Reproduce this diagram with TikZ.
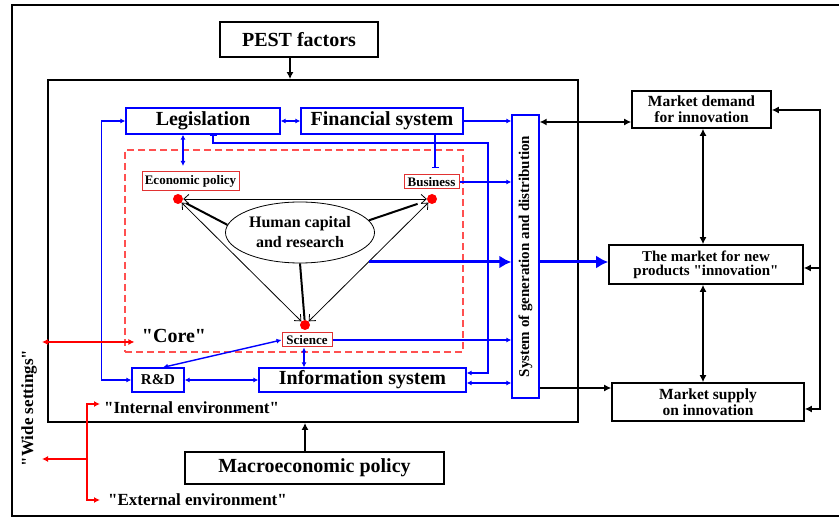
\documentclass[tikz,border=0pt]{standalone}
\usepackage{fontspec}
\setmainfont{Liberation Serif}[Ligatures=TeXOff]
\usetikzlibrary{arrows.meta,calc,shapes.geometric}
\definecolor{bl}{RGB}{0,0,255}
\definecolor{rdc}{RGB}{225,50,50}
\definecolor{lred}{RGB}{255,80,80}
\begin{document}
\begin{tikzpicture}[x=1pt,y=-1pt,
  fs/.style n args={2}{font=\fontsize{#1}{#2}\selectfont\bfseries},
  blkbox/.style={draw=black, line width=1.6pt, inner sep=0pt, align=center},
  blubox/.style={draw=bl, line width=1.3pt, inner sep=0pt, align=center},
  redbox/.style={draw=rdc, line width=1pt, inner sep=0pt},
  bline/.style={draw=bl, line width=1.4pt},
  barr/.style={bline, -{Latex[length=5pt,width=5pt]}},
  bdarr/.style={bline, {Latex[length=5pt,width=5pt]}-{Latex[length=5pt,width=5pt]}},
  karr/.style={line width=1.4pt, -{Latex[length=7pt,width=7pt]}},
  kdarr/.style={line width=1.4pt, {Latex[length=7pt,width=7pt]}-{Latex[length=7pt,width=7pt]}},
  tarr/.style={line width=0.8pt, {Straight Barb[length=5pt,width=9pt]}-{Straight Barb[length=5pt,width=9pt]}},
  thk/.style={line width=2pt},
  thkb/.style={draw=bl, line width=3pt, -{Latex[length=12pt,width=13pt]}},
  rarr/.style={draw=red, line width=1.2pt, -{Latex[length=6pt,width=6pt]}},
  rdarr/.style={draw=red, line width=1.2pt, {Latex[length=6pt,width=6pt]}-{Latex[length=6pt,width=6pt]}},
  dotn/.style={circle, fill=red, inner sep=0pt, minimum size=10pt},
]
\useasboundingbox (0,0) rectangle (839,518);
% outer frame
\draw[line width=2pt] (839,5) -- (12,5) -- (12,516) -- (839,516);
% main nodes
\node[blkbox, fs={20}{22}, minimum width=158, minimum height=35] (pest) at (299,39.5) {PEST factors};
\node[draw, line width=1.8pt, minimum width=530, minimum height=342, inner sep=0pt] (inner) at (313,251) {};
\node[draw=lred, line width=1.1pt, dash pattern=on 7pt off 4pt, minimum width=338, minimum height=202, inner sep=0pt] (core) at (294,251) {};
\node[blubox, fs={20}{22}, minimum width=154, minimum height=26] (legis) at (203,121) {Legislation};
\node[blubox, fs={20}{22}, minimum width=162, minimum height=26] (fin) at (382,121) {Financial system};
\node[redbox, fs={13}{14}, minimum width=97, minimum height=19] (econ) at (190.5,181) {Economic policy};
\node[redbox, fs={13}{14}, minimum width=55, minimum height=14] (bus) at (431.5,182) {Business};
\node[redbox, fs={13}{14}, minimum width=50, minimum height=14] (sci) at (307,340) {Science};
\node[blubox, fs={15}{16}, minimum width=52, minimum height=24] (rd) at (158,380) {R\&D};
\node[blubox, fs={20}{22}, minimum width=207, minimum height=24] (info) at (362.5,380) {Information system};
\node[blubox, minimum width=27, minimum height=283] (sys) at (525.5,256.5) {};
\node[rotate=90, fs={15}{16}] (systxt) at (sys.center) {System of generation and distribution};
\node[ellipse, draw, line width=0.8pt, minimum width=149, minimum height=61, inner sep=0pt, align=center, fs={16}{20}] (hc) at (300,232.5) {Human capital\\and research};
\node[blkbox, fs={20}{22}, minimum width=259, minimum height=32] (macro) at (314.5,468) {Macroeconomic policy};
\node[blkbox, fs={15.5}{16}, minimum width=139, minimum height=37] (mdem) at (701.5,109.5) {Market demand\\for innovation};
\node[blkbox, fs={15}{14}, minimum width=194, minimum height=39] (mnew) at (706,264.5) {The market for new\\products "innovation"};
\node[blkbox, fs={15.5}{16}, minimum width=192, minimum height=38] (msup) at (708,402) {Market supply\\on innovation};
\node[fs={20}{22}] (coretxt) at (174,336) {"Core"};
\node[rotate=90, fs={17}{18}] (wide) at (29,408) {"Wide settings"};
\node[fs={17}{18}, anchor=west, inner sep=0pt] (intenv) at (104,408) {"Internal environment"};
\node[fs={17}{18}, anchor=west, inner sep=0pt] (extenv) at (108,500) {"External environment"};
% dots
\node[dotn] (ed) at (178,199) {};
\node[dotn] (bd) at (432,199) {};
\node[dotn] (sd) at (305,325) {};
% triangle
\draw[tarr] (ed) -- (bd);
\draw[tarr] (ed) -- (sd);
\draw[tarr] (bd) -- (sd);
\draw[thk, shorten >=4pt] (hc.174) -- (ed);
\draw[thk, shorten >=10pt] (hc.10) -- (bd);
\draw[thk] (hc.south) -- (sd);
% blue connectors
\draw[bdarr] (legis.east) -- (fin.west);
\draw[bdarr] (legis.west) -- ++(-24,0) |- (rd.west);
\draw[bdarr] (legis.south -| 183,0) -- ($(econ.north -| 183,0)+(0,-5)$);
\draw[bline, {Bar[width=7pt]}-{Latex[length=5pt,width=5pt]}] (legis.south -| 213,0) |- (488,143) |- (info.east |- 0,373);
\draw[bline, -{Bar[width=7pt]}] (fin.south -| 435,0) -- (435,168);
\draw[barr] (fin.east) -- (fin.east -| sys.west);
\draw[barr] (bus.east) -- (bus.east -| sys.west);
\coordinate (tstart) at ($(bd)!0.5!(sd)$);
\draw[thkb] (tstart) -- (tstart -| sys.west);
\draw[thkb] (tstart -| sys.east) -- (tstart -| mnew.west);
\draw[barr] (sci.east) -- (sci.east -| sys.west);
\draw[bdarr] (sci.south -| 304,0) -- (info.north -| 304,0);
\draw[bdarr] (sci.west) -- ($(rd.north)+(5,0)$);
\draw[bdarr] (rd.east) -- (info.west);
\draw[bdarr] (info.east |- 0,383) -- (sys.west |- 0,383);
% black connectors
\draw[karr] (pest.south -| 290,0) -- (inner.north -| 290,0);
\draw[karr] (macro.north -| 305,0) -- (inner.south -| 305,0);
\draw[kdarr] (sys.east |- 0,122) -- (mdem.west |- 0,122);
\draw[karr] (sys.east |- 0,388) -- (msup.west |- 0,388);
\draw[kdarr] (mdem.south -| 703,0) -- (mnew.north -| 703,0);
\draw[kdarr] (mnew.south -| 703,0) -- (msup.north -| 703,0);
\coordinate (fbtop) at (820,110);
\coordinate (fbbot) at (820,409);
\draw[kdarr] (mdem.east |- fbtop) -- (fbtop) -- (fbbot) -- (msup.east |- fbbot);
\draw[karr] (fbtop |- 0,268) -- (mnew.east |- 0,268);
% red arrows
\coordinate (cl) at (42,342);
\draw[rdarr] (cl) -- ($(core.west |- cl)+(10,0)$);
\coordinate (wl) at (42,459);
\draw[rdarr] ($(intenv.west)+(-4,-4)$) -| (87,500) -- ($(extenv.west)+(-8,0)$);
\draw[rarr] (87,459) -- (wl);
\end{tikzpicture}
\end{document}
